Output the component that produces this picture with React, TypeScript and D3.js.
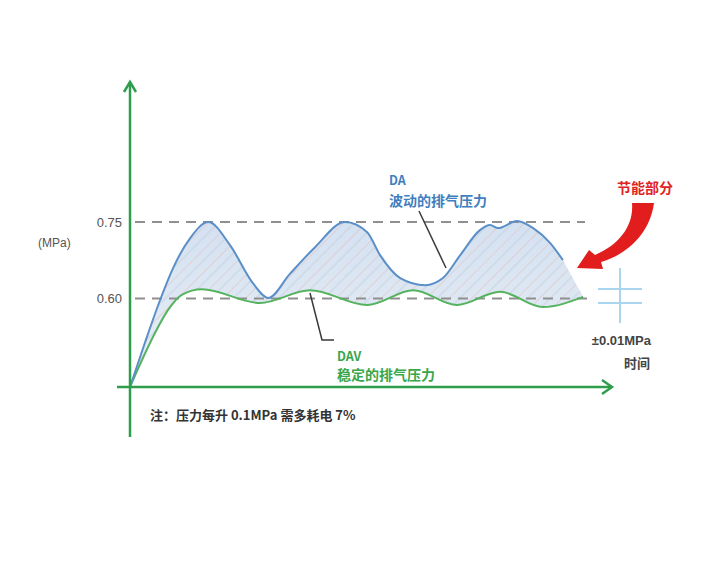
import React from "react";
import * as d3 from "d3";

// time (arbitrary units) and pressure (MPa)
const daTime = [0, 3, 6, 9, 12.5, 16.3, 20.8, 25.6, 28.8, 33.3, 38.5, 44.8, 49.4, 52.1, 56.3, 61.5, 65.2, 68.8, 72.9, 75.0, 76.7, 80.6, 84.0, 87.5, 90.2];
const daValue = [0.426, 0.51, 0.59, 0.66, 0.718, 0.75, 0.705, 0.63, 0.601, 0.648, 0.7, 0.75, 0.73, 0.685, 0.64, 0.626, 0.64, 0.685, 0.734, 0.744, 0.738, 0.752, 0.738, 0.709, 0.675];

const davTime = [0, 2.5, 5.2, 7.9, 10.8, 15.0, 27.1, 37.5, 49.4, 59.0, 68.1, 77.1, 86.0, 94.4];
const davValue = [0.426, 0.479, 0.532, 0.577, 0.607, 0.618, 0.591, 0.616, 0.587, 0.616, 0.587, 0.613, 0.583, 0.603];

const tickValues = [0.6, 0.75];
const tickLabels = ["0.60", "0.75"];

const CJK = "'Noto Sans CJK SC', 'Noto Sans', sans-serif";
const LATIN = "'Liberation Sans', Arial, sans-serif";

export default function App() {
  const width = 726;
  const height = 580;

  const x = d3.scaleLinear().domain([0, 100]).range([130, 610]);
  const y = d3.scaleLinear().domain([0.426, 0.75]).range([387, 222]);

  const da = daTime.map((t, i) => [t, daValue[i]] as [number, number]);
  const dav = davTime.map((t, i) => [t, davValue[i]] as [number, number]);

  const line = d3
    .line<[number, number]>()
    .x((d) => x(d[0]))
    .y((d) => y(d[1]))
    .curve(d3.curveMonotoneX);

  const daPath = line(da) || "";
  const davPath = line(dav) || "";
  const davBack = (line([...dav].reverse()) || "").replace(/^M/, "L");
  const areaPath = daPath + davBack + "Z";

  const axisColor = "#2f9e4c";
  const x0 = x(0);
  const yAxisY = y(0.426);

  return (
    <svg
      width={width}
      height={height}
      style={{ position: "absolute", left: 0, top: 0, background: "#fff" }}
    >
      <defs>
        <pattern
          id="hatch"
          width="16"
          height="16"
          patternUnits="userSpaceOnUse"
          patternTransform="rotate(45)"
        >
          <line x1="0" y1="0" x2="0" y2="16" stroke="#e3b9b2" strokeWidth="1.2" />
          <line x1="8" y1="0" x2="8" y2="16" stroke="#c4ccd8" strokeWidth="1" />
        </pattern>
        <linearGradient id="fillGrad" x1="0" y1="0" x2="0" y2="1">
          <stop offset="0%" stopColor="#d4e1f1" />
          <stop offset="100%" stopColor="#e9eff7" />
        </linearGradient>
      </defs>

      {/* energy saving area */}
      <path d={areaPath} fill="url(#fillGrad)" />
      <path d={areaPath} fill="url(#hatch)" opacity={0.8} />

      {/* dashed reference lines */}
      {tickValues.map((v, i) => (
        <line
          key={"g" + i}
          x1={x0 + 5}
          x2={i === 0 ? 592 : 585}
          y1={y(v)}
          y2={y(v)}
          stroke="#8f8f8f"
          strokeWidth={2}
          strokeDasharray="10,7"
        />
      ))}

      {/* tick labels */}
      {tickValues.map((v, i) => (
        <text
          key={"t" + i}
          x={122}
          y={y(v)}
          dy="0.35em"
          textAnchor="end"
          fontFamily={LATIN}
          fontSize={13}
          fill="#555"
        >
          {tickLabels[i]}
        </text>
      ))}
      <text x={38} y={243} dy="0.35em" fontFamily={LATIN} fontSize={12} fill="#555">
        (MPa)
      </text>

      {/* curves */}
      <path d={davPath} fill="none" stroke="#55b35f" strokeWidth={2} />
      <path d={daPath} fill="none" stroke="#5b8fc8" strokeWidth={2} />

      {/* axes */}
      <line x1={x0} x2={x0} y1={82} y2={437} stroke={axisColor} strokeWidth={2.5} />
      <polyline
        points={`${x0 - 6},92 ${x0},82 ${x0 + 6},92`}
        fill="none"
        stroke={axisColor}
        strokeWidth={2.5}
      />
      <line x1={117} x2={612} y1={yAxisY} y2={yAxisY} stroke={axisColor} strokeWidth={2.5} />
      <polyline
        points={`602,${yAxisY - 7} 612,${yAxisY} 602,${yAxisY + 7}`}
        fill="none"
        stroke={axisColor}
        strokeWidth={2.5}
      />

      {/* DA label */}
      <line x1={419} y1={211} x2={446} y2={268} stroke="#3a3a3a" strokeWidth={1.5} />
      <text x={389} y={185} fontFamily={CJK} fontWeight="bold" fontSize={12.5} fill="#3f7fc0">
        DA
      </text>
      <text x={389} y={206} fontFamily={CJK} fontWeight="bold" fontSize={14} fill="#3f7fc0">
        波动的排气压力
      </text>

      {/* DAV label */}
      <polyline
        points="310,293 322,340 334,340"
        fill="none"
        stroke="#3a3a3a"
        strokeWidth={1.5}
      />
      <text x={337} y={361} fontFamily={CJK} fontWeight="bold" fontSize={12.5} fill="#3aa64a">
        DAV
      </text>
      <text x={337} y={380} fontFamily={CJK} fontWeight="bold" fontSize={14} fill="#3aa64a">
        稳定的排气压力
      </text>

      {/* energy saving arrow */}
      <text x={617} y={193} fontFamily={CJK} fontWeight="bold" fontSize={14} fill="#e02424">
        节能部分
      </text>
      <path
        d="M632,203 L654,203 C650,233 628,254 601,262 L603,269 L577,268 L589,250 L595,255 C619,245 634,226 632,203 Z"
        fill="#e11d1d"
      />

      {/* +-0.01 MPa symbol */}
      <line x1={620} x2={620} y1={268} y2={323} stroke="#a9d5ee" strokeWidth={2} />
      <line x1={598} x2={642} y1={289} y2={289} stroke="#a9d5ee" strokeWidth={2} />
      <line x1={598} x2={642} y1={303} y2={303} stroke="#a9d5ee" strokeWidth={2} />
      <text x={651} y={345} textAnchor="end" fontFamily={LATIN} fontWeight="bold" fontSize={13} fill="#444">
        ±0.01MPa
      </text>
      <text x={650} y={368} textAnchor="end" fontFamily={CJK} fontWeight="bold" fontSize={13} fill="#444">
        时间
      </text>

      {/* note */}
      <text x={150} y={420} fontFamily={CJK} fontWeight="bold" fontSize={13} fill="#333">
        注：压力每升 0.1MPa 需多耗电 7%
      </text>
    </svg>
  );
}
